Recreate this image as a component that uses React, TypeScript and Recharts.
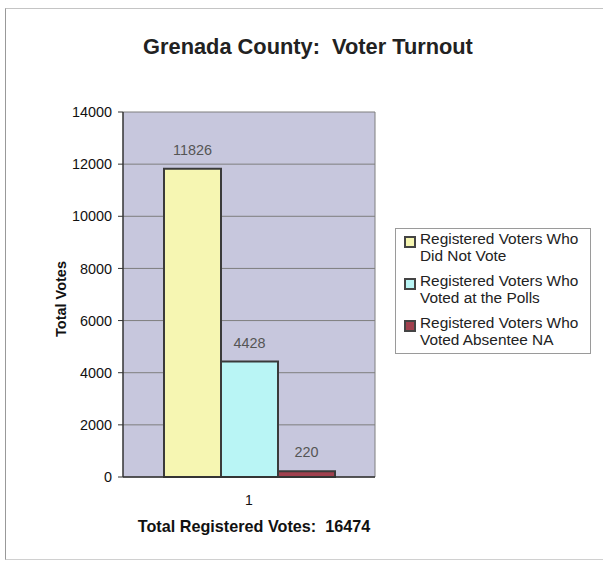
import React from 'react';
import {
  BarChart,
  Bar,
  XAxis,
  YAxis,
  CartesianGrid,
  LabelList,
} from 'recharts';

// ─────────────────────────────────────────────
// Data
// ─────────────────────────────────────────────

const categories = ['1'];
const seriesKeys = ['notVote', 'polls', 'absentee'];
const seriesNames = [
  'Registered Voters Who Did Not Vote',
  'Registered Voters Who Voted at the Polls',
  'Registered Voters Who Voted Absentee NA',
];
const seriesValues = [[11826], [4428], [220]];
const seriesColors = ['#f6f6b2', '#b9f5f5', '#a0404e'];
const yTicks = [0, 2000, 4000, 6000, 8000, 10000, 12000, 14000];

const chartTitle = 'Grenada County:  Voter Turnout';
const yTitle = 'Total Votes';
const xTitlePrefix = 'Total Registered Votes:  ';

const data = categories.map((name, i) => {
  const row: Record<string, string | number> = { name };
  seriesKeys.forEach((k, s) => {
    row[k] = seriesValues[s][i];
  });
  return row;
});

const totalRegistered = seriesValues.reduce((sum, v) => sum + v[0], 0);

const FONT = '"Liberation Sans", Arial, sans-serif';

// ─────────────────────────────────────────────
// Legend box (HTML overlay, built from the series arrays)
// ─────────────────────────────────────────────

function LegendBox() {
  return (
    <div
      style={{
        position: 'absolute',
        left: 395,
        top: 228,
        width: 196,
        border: '1px solid #9a9a9a',
        background: '#fff',
        padding: '2px 4px 5px 8px',
        fontFamily: FONT,
        fontSize: 15.4,
        lineHeight: '16.5px',
        color: '#222',
        boxSizing: 'border-box',
      }}
    >
      {seriesNames.map((name, i) => (
        <div
          key={name}
          style={{ display: 'flex', alignItems: 'flex-start', marginTop: i === 0 ? 0 : 9 }}
        >
          <span
            style={{
              width: 8,
              height: 8,
              marginTop: 5,
              marginRight: 4,
              flexShrink: 0,
              background: seriesColors[i],
              border: '2px solid #444',
            }}
          />
          <span style={{ width: 174 }}>{name}</span>
        </div>
      ))}
    </div>
  );
}

// ─────────────────────────────────────────────
// Chart
// ─────────────────────────────────────────────

export default function App() {
  return (
    <div
      style={{
        position: 'absolute',
        left: 0,
        top: 0,
        width: 603,
        height: 567,
        background: '#fff',
        fontFamily: FONT,
        overflow: 'hidden',
      }}
    >
      {/* outer frame */}
      <div
        style={{
          position: 'absolute',
          left: 5,
          top: 8,
          width: 610,
          height: 550,
          borderLeft: '1px solid #999',
          borderTop: '1px solid #c4c4c4',
          borderBottom: '1px solid #d0d0d0',
        }}
      />

      <div
        style={{
          position: 'absolute',
          left: 0,
          width: 616,
          top: 34,
          textAlign: 'center',
          fontSize: 21.8,
          fontWeight: 'bold',
          color: '#222',
          whiteSpace: 'pre',
        }}
      >
        {chartTitle}
      </div>

      <div
        style={{
          position: 'absolute',
          left: 61,
          top: 299,
          transform: 'translate(-50%, -50%) rotate(-90deg)',
          fontSize: 14.5,
          fontWeight: 'bold',
          color: '#111',
          whiteSpace: 'pre',
        }}
      >
        {yTitle}
      </div>

      <div
        style={{
          position: 'absolute',
          left: 54,
          width: 400,
          top: 517,
          textAlign: 'center',
          fontSize: 16.2,
          fontWeight: 'bold',
          color: '#111',
          whiteSpace: 'pre',
        }}
      >
        {xTitlePrefix + totalRegistered}
      </div>

      <BarChart
        width={603}
        height={567}
        data={data}
        margin={{ top: 112, right: 228, bottom: 60, left: 43 }}
        barCategoryGap={41}
        barGap={0}
        style={{ position: 'absolute', left: 0, top: 0 }}
      >
        <CartesianGrid
          fill="#c7c7dd"
          fillOpacity={1}
          stroke="#7e7e7e"
          vertical={true}
          verticalCoordinatesGenerator={({ offset }: any) => [offset.left + offset.width]}
        />
        <XAxis
          dataKey="name"
          height={30}
          tickLine={false}
          tickSize={0}
          tickMargin={18}
          axisLine={{ stroke: '#333', strokeWidth: 1.5 }}
          tick={{ fontSize: 14, fill: '#111', fontFamily: FONT }}
        />
        <YAxis
          width={80}
          domain={[0, 14000]}
          ticks={yTicks}
          interval={0}
          tickSize={5}
          tickMargin={6}
          axisLine={{ stroke: '#333', strokeWidth: 1.5 }}
          tickLine={{ stroke: '#333' }}
          tick={{ fontSize: 14.4, fill: '#111', fontFamily: FONT }}
        />
        {seriesKeys.map((k, i) => (
          <Bar
            key={k}
            dataKey={k}
            name={seriesNames[i]}
            fill={seriesColors[i]}
            stroke="#3a3a3a"
            strokeWidth={2}
            isAnimationActive={false}
          >
            <LabelList
              dataKey={k}
              position="top"
              offset={14}
              style={{ fontSize: 14.4, fill: '#555', fontFamily: FONT }}
            />
          </Bar>
        ))}
      </BarChart>

      <LegendBox />
    </div>
  );
}
